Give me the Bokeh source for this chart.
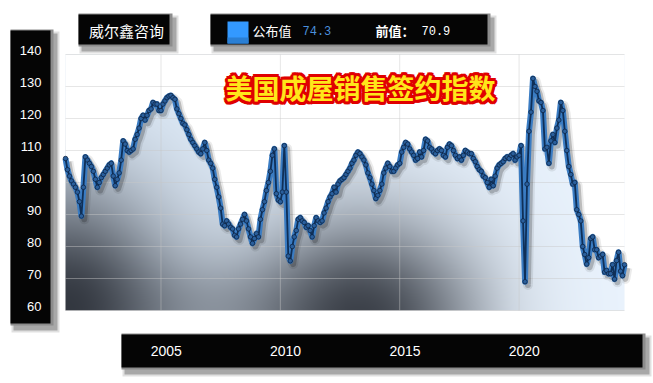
import numpy as np
from bokeh.plotting import figure
from bokeh.models import (Label, FixedTicker, Range1d, ColumnDataSource, PrintfTickFormatter,
                          LinearAxis, BoxAnnotation)
from bokeh.embed import file_html
from bokeh.resources import INLINE

# ---------------- data (monthly index, 2001-01 .. 2024-06) ----------------
start_year = 2001
v2001 = [107.5, 104, 102, 100.5, 99.5, 98.5, 97, 94, 89.5, 98.5, 108, 107]
v2002 = [106, 105, 103.5, 101, 98.5, 100, 101.5, 102.5, 103.5, 104.5, 105.5, 106]
v2003 = [102, 99, 101, 103, 107, 113, 112, 110, 109.5, 110, 110.5, 113.5]
v2004 = [115, 117, 120, 121, 119.5, 121, 122.5, 123, 125, 124.5, 124.5, 122.5]
v2005 = [122.5, 124.5, 125.5, 126.5, 127, 127.2, 126.5, 126, 123, 121.5, 120, 118.5]
v2006 = [118, 116.5, 115, 113.5, 112.5, 111.5, 110.5, 109.5, 109, 110.5, 112.5, 110]
v2007 = [107, 106, 104.5, 101, 98.5, 95.5, 92, 87, 86.5, 88, 87, 86]
v2008 = [85.5, 83.5, 83, 85.5, 87, 88.5, 90, 88, 85.5, 83, 81, 82.5]
v2009 = [84, 83, 88.5, 91.5, 94, 97.5, 100, 103.5, 108.5, 110.5, 96.5, 94.5]
v2010 = [94, 97, 111.5, 97, 77, 75.5, 80, 83, 85, 88.5, 89, 88]
v2011 = [87.5, 86, 86.5, 85, 83, 86.5, 89, 88, 87.5, 88, 90.5, 92]
v2012 = [94, 95.5, 96.5, 98.5, 97, 99.5, 100.5, 101, 101.5, 102.5, 103.5, 104.5]
v2013 = [106, 107, 108.5, 109.5, 109, 108, 107, 105.5, 103, 101.5, 99.5, 97.5]
v2014 = [95, 96, 97.5, 99.5, 103, 104.5, 106, 105, 103.5, 103.5, 104.5, 105.5]
v2015 = [106, 109.5, 111, 112.5, 112, 110.5, 109.5, 108.5, 107, 107.5, 109.5, 108]
v2016 = [110, 113.5, 113, 111, 110.5, 109.5, 109, 110, 110.5, 110, 108.5, 108]
v2017 = [111, 112, 111.5, 110, 108.5, 107.5, 108, 107, 108.5, 110, 109.5, 109]
v2018 = [109, 107.5, 106.5, 105, 104, 103.5, 102, 101.5, 100, 98.5, 101, 99]
v2019 = [102, 104.5, 105.5, 106, 106.5, 107.5, 108, 107.5, 108.5, 109, 107, 108]
v2020 = [108.5, 111.5, 88, 69, 99.5, 116, 122, 132.5, 130, 128.5, 125.5, 125]
v2021 = [122.5, 110.5, 111, 106, 113, 115, 112.5, 117, 119.5, 125, 122.5, 116]
v2022 = [110, 105, 102.5, 99.5, 100, 91.5, 90, 88, 80, 77.5, 74.5, 76.5]
v2023 = [82.5, 83, 79, 79, 76.5, 77, 77.5, 72, 72.5, 71.5, 71.5, 74.3]
v2024 = [69.8, 75.6, 78.2, 72.3, 70.9, 74.3]

x_tick_years = [2005, 2010, 2015, 2020]
y_ticks = [60, 70, 80, 90, 100, 110, 120, 130, 140]
title_text = "美国成屋销售签约指数"
brand_text = "威尔鑫咨询"
legend_label = "公布值"
latest_value = "74.3"
prev_label = "前值："
prev_value = "70.9"

values = np.array(v2001 + v2002 + v2003 + v2004 + v2005 + v2006 + v2007 + v2008 +
                  v2009 + v2010 + v2011 + v2012 + v2013 + v2014 + v2015 + v2016 +
                  v2017 + v2018 + v2019 + v2020 + v2021 + v2022 + v2023 + v2024)
xs = start_year + np.arange(len(values)) / 12.0
Y0, Y1 = y_ticks[0], y_ticks[-1]

# ---------------- layout: whole canvas is the frame; data area placed inside ----------------
CW, CH = 653, 383
X0P, X1P, YTP, YBP = 65, 624, 54, 310
kx = (xs[-1] - xs[0]) / (X1P - X0P)
ky = (Y1 - Y0) / (YBP - YTP)


def px2x(px):
    return float(xs[0] + (px - X0P) * kx)


def py2y(py):
    return float(Y0 + (YBP - py) * ky)


p = figure(width=CW, height=CH, output_backend="svg", toolbar_location=None,
           x_range=Range1d(px2x(0), px2x(CW)), y_range=Range1d(py2y(CH), py2y(0)),
           x_axis_location=None, y_axis_location=None,
           min_border=0, min_border_left=0, min_border_right=0, min_border_top=0, min_border_bottom=0,
           background_fill_color="white", border_fill_color="white", outline_line_color=None)
p.xgrid.visible = False
p.ygrid.visible = False
# label ranges: tick labels sit slightly above / right of their grid lines, as in the original
p.extra_y_ranges = {"ylab": Range1d(py2y(CH) - 1.4, py2y(0) - 1.4)}
p.extra_x_ranges = {"xlab": Range1d(px2x(0) - 0.22, px2x(CW) - 0.22)}

# ---------------- gradient fill under the curve ----------------
H, W = 256, 560
u = (np.arange(W) + 0.5) / W
v = (np.arange(H) + 0.5) / H
U, V = np.meshgrid(u, v)
b1 = 0.9 * np.exp(-((U / 0.19) ** 2 + (V / 0.5) ** 2))
b2 = 0.85 * np.exp(-(((U - 0.53) / 0.2) ** 2 + ((V + 0.05) / 0.42) ** 2))
b3 = 0.28 * np.exp(-((V / 0.2) ** 2)) * np.clip((0.8 - U) / 0.3, 0, 1)
t = 1 - (1 - b1) * (1 - b2) * (1 - b3)
light = np.array([220, 233, 247]) + (U[..., None] * np.array([14, 10, 6]))
dark = np.array([38, 42, 50])
rgb = light * (1 - t[..., None]) + dark * t[..., None]
img = np.empty((H, W), dtype=np.uint32)
view = img.view(dtype=np.uint8).reshape((H, W, 4))
view[..., 0] = rgb[..., 0].astype(np.uint8)
view[..., 1] = rgb[..., 1].astype(np.uint8)
view[..., 2] = rgb[..., 2].astype(np.uint8)
view[..., 3] = 255
p.image_rgba(image=[img], x=xs[0], y=Y0, dw=xs[-1] - xs[0], dh=Y1 - Y0, level="image")

src = ColumnDataSource(dict(x=xs, y=values, xsh=xs + 0.12, ysh=values - 1.0))
p.varea(x="x", y1="y", y2=Y1, source=src, fill_color="white", level="image")


# ---------------- decorative black panels ----------------
def rect(l, t, r, b, color, alpha=1.0):
    p.add_layout(BoxAnnotation(left=px2x(l), right=px2x(r), top=py2y(t), bottom=py2y(b),
                               fill_color=color, fill_alpha=alpha, line_color=None, level="underlay"))


def panel_box(l, t, r, b):
    rect(l + 1, t + 2, r + 6, b + 7, "black", 0.12)
    rect(l + 3, t + 4, r + 4, b + 5, "black", 0.25)
    rect(l, t, r, b, "#8c8c8c")
    rect(l, t + 1, r - 3, b - 2, "#050505")


panel_box(10, 29, 53, 325)
panel_box(121, 333, 645, 369)
panel_box(78, 13, 172, 46)
panel_box(210, 13, 490, 46)
rect(227, 21, 248, 43, "#3399ff")
rect(227, 37, 248, 43, "#2a7fd4")

# ---------------- grid lines inside the data area ----------------
p.segment(x0=xs[0], x1=xs[-1], y0=y_ticks, y1=y_ticks, line_color="#c8c8c8", line_alpha=0.45,
          line_width=1, level="underlay")
p.segment(x0=x_tick_years, x1=x_tick_years, y0=Y0, y1=Y1, line_color="#c8c8c8", line_alpha=0.45,
          line_width=1, level="underlay")

# ---------------- axes (tick labels sit on the black panels) ----------------
yax = LinearAxis(y_range_name="ylab", fixed_location=px2x(41), ticker=FixedTicker(ticks=y_ticks))
xax = LinearAxis(x_range_name="xlab", fixed_location=py2y(333), ticker=FixedTicker(ticks=x_tick_years),
                 formatter=PrintfTickFormatter(format="%d"))
for ax in (xax, yax):
    ax.axis_line_color = None
    ax.major_tick_line_color = None
    ax.minor_tick_line_color = None
    ax.major_tick_out = 0
    ax.major_tick_in = 0
    ax.minor_tick_out = 0
    ax.minor_tick_in = 0
    ax.major_label_text_color = "white"
    ax.major_label_text_font = "Liberation Sans"
xax.major_label_text_font_size = "14px"
xax.major_label_standoff = 12
yax.major_label_text_font_size = "13px"
yax.major_label_standoff = 0
p.add_layout(yax, "left")
p.add_layout(xax, "below")

# ---------------- series line ----------------
p.line("xsh", "ysh", source=src, line_width=10, line_color="black", line_alpha=0.08, line_join="round")
p.line("xsh", "ysh", source=src, line_width=6, line_color="black", line_alpha=0.2, line_join="round")
p.line("x", "y", source=src, line_width=6, line_color="#3a7cc3", line_join="round")
p.line("x", "y", source=src, line_width=1.8, line_color="#0f2f57", line_join="round")
p.scatter("x", "y", source=src, size=4.5, fill_color="#2a5f9c", line_color="#0c2545", line_width=0.8)


def canvas_label(x, y, text, color, size, font, style="normal", align="left", **extra):
    p.add_layout(Label(x=x, y=y, x_units="canvas", y_units="canvas", text=text, text_color=color,
                       text_font_size=size, text_font=font, text_font_style=style,
                       text_align=align, text_baseline="middle", **extra))


canvas_label(126, 30, brand_text, "white", "15px", "Noto Sans CJK SC", align="center")
canvas_label(252, 30, legend_label, "white", "13px", "Noto Sans CJK SC")
canvas_label(302, 30, latest_value, "#4a8fdc", "12px", "Liberation Mono")
canvas_label(375, 30, prev_label, "white", "13px", "Noto Sans CJK SC", style="bold")
canvas_label(421, 30, prev_value, "white", "12px", "Liberation Mono")

# title with red outline
tx, ty = 360, 87
canvas_label(tx, ty, title_text, "#7a0000", "27px", "Noto Sans CJK SC", style="bold", align="center",
             x_offset=2, y_offset=-3, text_alpha=0.35)
for r in (3.0, 1.6):
    for ang in np.arange(0, 360, 30):
        canvas_label(tx, ty, title_text, "#e00000", "27px", "Noto Sans CJK SC", style="bold", align="center",
                     x_offset=float(r * np.cos(np.radians(ang))), y_offset=float(r * np.sin(np.radians(ang))))
canvas_label(tx, ty, title_text, "#ffe61a", "27px", "Noto Sans CJK SC", style="bold", align="center")

open("out.html", "w").write(file_html(p, INLINE))
